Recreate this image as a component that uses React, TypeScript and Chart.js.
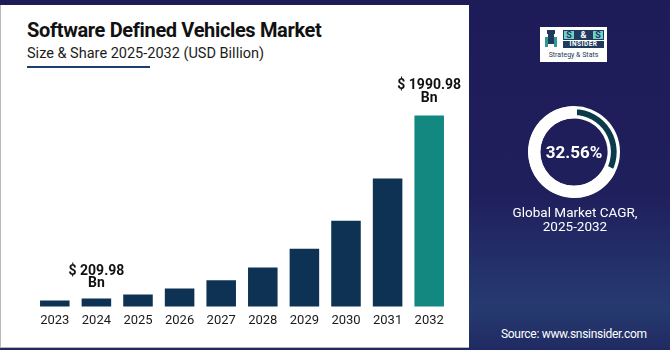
import React, { useEffect, useRef } from "react";
import { Chart, registerables } from "chart.js";

Chart.register(...registerables);

const categories = ["2023", "2024", "2025", "2026", "2027", "2028", "2029", "2030", "2031", "2032"];
const marketValues = [190, 209.98, 248, 306, 387, 510, 693, 967, 1378, 1990.98];
const valueLabels = ["", "$ 209.98", "", "", "", "", "", "", "", "$ 1990.98"];
const valueUnit = "Bn";
const cagrValue = 32.56;
const cagrRest = 100 - cagrValue;

const NAVY_BAR = "#0e3253";
const TEAL_BAR = "#138881";
const FONT = "Roboto, 'Noto Sans', Arial, sans-serif";

const barLabelPlugin = {
  id: "barLabels",
  afterDatasetsDraw(chart: any) {
    const ctx = chart.ctx;
    const meta = chart.getDatasetMeta(0);
    ctx.save();
    ctx.fillStyle = "#111111";
    ctx.font = `bold 14px ${FONT}`;
    ctx.textAlign = "center";
    ctx.textBaseline = "middle";
    meta.data.forEach((bar: any, i: number) => {
      const text = valueLabels[i];
      if (!text) return;
      const tall = i === meta.data.length - 1;
      const gap = tall ? 30 : 27;
      ctx.fillText(text, bar.x, bar.y - gap);
      ctx.fillText(valueUnit, bar.x, bar.y - gap + 12.5);
    });
    ctx.restore();
  },
};

function BarChart() {
  const ref = useRef<HTMLCanvasElement | null>(null);
  useEffect(() => {
    if (!ref.current) return;
    const chart = new Chart(ref.current, {
      type: "bar",
      data: {
        labels: categories,
        datasets: [
          {
            data: marketValues,
            backgroundColor: categories.map((_, i) => (i === categories.length - 1 ? TEAL_BAR : NAVY_BAR)),
            barPercentage: 0.71,
            categoryPercentage: 1,
          },
        ],
      },
      options: {
        animation: false,
        responsive: false,
        maintainAspectRatio: false,
        events: [],
        layout: { padding: { left: 20, right: 18, top: 0, bottom: 0 } },
        plugins: { legend: { display: false }, tooltip: { enabled: false } },
        scales: {
          x: {
            grid: { display: false, drawTicks: false },
            border: { display: false },
            ticks: { color: "#1a1a1a", font: { family: FONT, size: 13 }, padding: 7, maxRotation: 0 },
          },
          y: {
            display: false,
            min: 132,
            max: 2533,
          },
        },
      },
      plugins: [barLabelPlugin],
    });
    return () => chart.destroy();
  }, []);
  return (
    <canvas
      ref={ref}
      width={454}
      height={276}
      style={{ position: "absolute", left: 14, top: 60, width: 454, height: 276 }}
    />
  );
}

function Donut() {
  const ref = useRef<HTMLCanvasElement | null>(null);
  useEffect(() => {
    if (!ref.current) return;
    const chart = new Chart(ref.current, {
      type: "doughnut",
      data: {
        labels: ["CAGR", "rest"],
        datasets: [
          {
            data: [cagrValue, cagrRest],
            backgroundColor: ["#0b3a4b", "#ffffff"],
            borderColor: "#ffffff",
            borderWidth: 3,
            borderAlign: "inner",
          },
        ],
      },
      options: {
        animation: false,
        responsive: false,
        maintainAspectRatio: false,
        events: [],
        cutout: "73%",
        plugins: { legend: { display: false }, tooltip: { enabled: false } },
      },
    });
    return () => chart.destroy();
  }, []);
  return (
    <canvas
      ref={ref}
      width={92}
      height={92}
      style={{ position: "absolute", left: 528, top: 106, width: 92, height: 92 }}
    />
  );
}

function Logo() {
  return (
    <div
      style={{
        position: "absolute",
        left: 540,
        top: 27,
        width: 67,
        height: 35,
        background: "#ffffff",
        fontFamily: FONT,
      }}
    >
      <div style={{ position: "absolute", left: 7, top: 3, width: 8, height: 4, background: "#1f3a5c" }} />
      <div style={{ position: "absolute", left: 8, top: 7, width: 6, height: 10, background: "#1f3a5c" }} />
      <div style={{ position: "absolute", left: 5, top: 10, width: 3, height: 10, background: "#2f9a94" }} />
      <div style={{ position: "absolute", left: 14, top: 10, width: 3, height: 10, background: "#2f9a94" }} />
      <div style={{ position: "absolute", left: 23, top: 3, width: 41, height: 10, background: "#1f3a5c" }} />
      <div style={{ position: "absolute", left: 24, top: 4, width: 10, height: 8, background: "#6fd0c8", color: "#1f3a5c", fontSize: 9, fontWeight: 700, lineHeight: "8px", textAlign: "center" }}>S</div>
      <div style={{ position: "absolute", left: 34, top: 3, width: 19, height: 10, color: "#ffffff", fontSize: 9, fontWeight: 700, lineHeight: "10px", textAlign: "center" }}>&amp;</div>
      <div style={{ position: "absolute", left: 53, top: 4, width: 10, height: 8, background: "#6fd0c8", color: "#1f3a5c", fontSize: 9, fontWeight: 700, lineHeight: "8px", textAlign: "center" }}>S</div>
      <div style={{ position: "absolute", left: 23, top: 14, width: 41, height: 7, background: "#1f3a5c", color: "#ffffff", fontSize: 6.5, fontWeight: 700, lineHeight: "7px", textAlign: "center", letterSpacing: 0.5 }}>INSIDER</div>
      <div style={{ position: "absolute", left: 1, top: 23, width: 65, height: 10, color: "#1f3a5c", fontSize: 7, lineHeight: "10px", textAlign: "center", whiteSpace: "nowrap" }}>Strategy &amp; Stats</div>
    </div>
  );
}

export default function App() {
  return (
    <div
      style={{
        position: "fixed",
        left: 0,
        top: 0,
        width: 670,
        height: 350,
        overflow: "hidden",
        background: "linear-gradient(180deg, #1e1c58 0%, #1f1f5c 55%, #24326b 78%, #263a70 88%, #202a62 100%)",
        fontFamily: FONT,
      }}
    >
      <div
        style={{
          position: "absolute",
          left: 0,
          top: 5,
          width: 469,
          height: 343,
          background: "#ffffff",
          borderLeft: "1px solid #b8b8b8",
          borderBottom: "1px solid #b8b8b8",
          boxSizing: "border-box",
        }}
      />
      <div
        style={{
          position: "absolute",
          left: 27,
          top: 17,
          fontSize: 20,
          fontWeight: 700,
          color: "#111111",
          whiteSpace: "nowrap",
          letterSpacing: -0.35,
          lineHeight: "26px",
        }}
      >
        Software Defined Vehicles Market
      </div>
      <div
        style={{
          position: "absolute",
          left: 27,
          top: 45,
          fontSize: 14.5,
          color: "#1c1c1c",
          whiteSpace: "nowrap",
          lineHeight: "18px",
        }}
      >
        Size &amp; Share 2025-2032 (USD Billion)
      </div>
      <div style={{ position: "absolute", left: 27, top: 66, width: 123, height: 2, background: "#1e3f6e" }} />
      <BarChart />
      <Logo />
      <Donut />
      <div
        style={{
          position: "absolute",
          left: 534,
          top: 142,
          width: 80,
          textAlign: "center",
          color: "#ffffff",
          fontSize: 17,
          fontWeight: 700,
          lineHeight: "20px",
        }}
      >
        {cagrValue}%
      </div>
      <div
        style={{
          position: "absolute",
          left: 495,
          top: 206,
          width: 160,
          textAlign: "center",
          color: "#ffffff",
          fontSize: 13.5,
          lineHeight: "13.5px",
        }}
      >
        Global Market CAGR,
        <br />
        2025-2032
      </div>
      <div
        style={{
          position: "absolute",
          left: 501,
          top: 327,
          color: "#ffffff",
          fontSize: 12,
          lineHeight: "15px",
          whiteSpace: "nowrap",
          letterSpacing: -0.3,
        }}
      >
        Source: www.snsinsider.com
      </div>
    </div>
  );
}
